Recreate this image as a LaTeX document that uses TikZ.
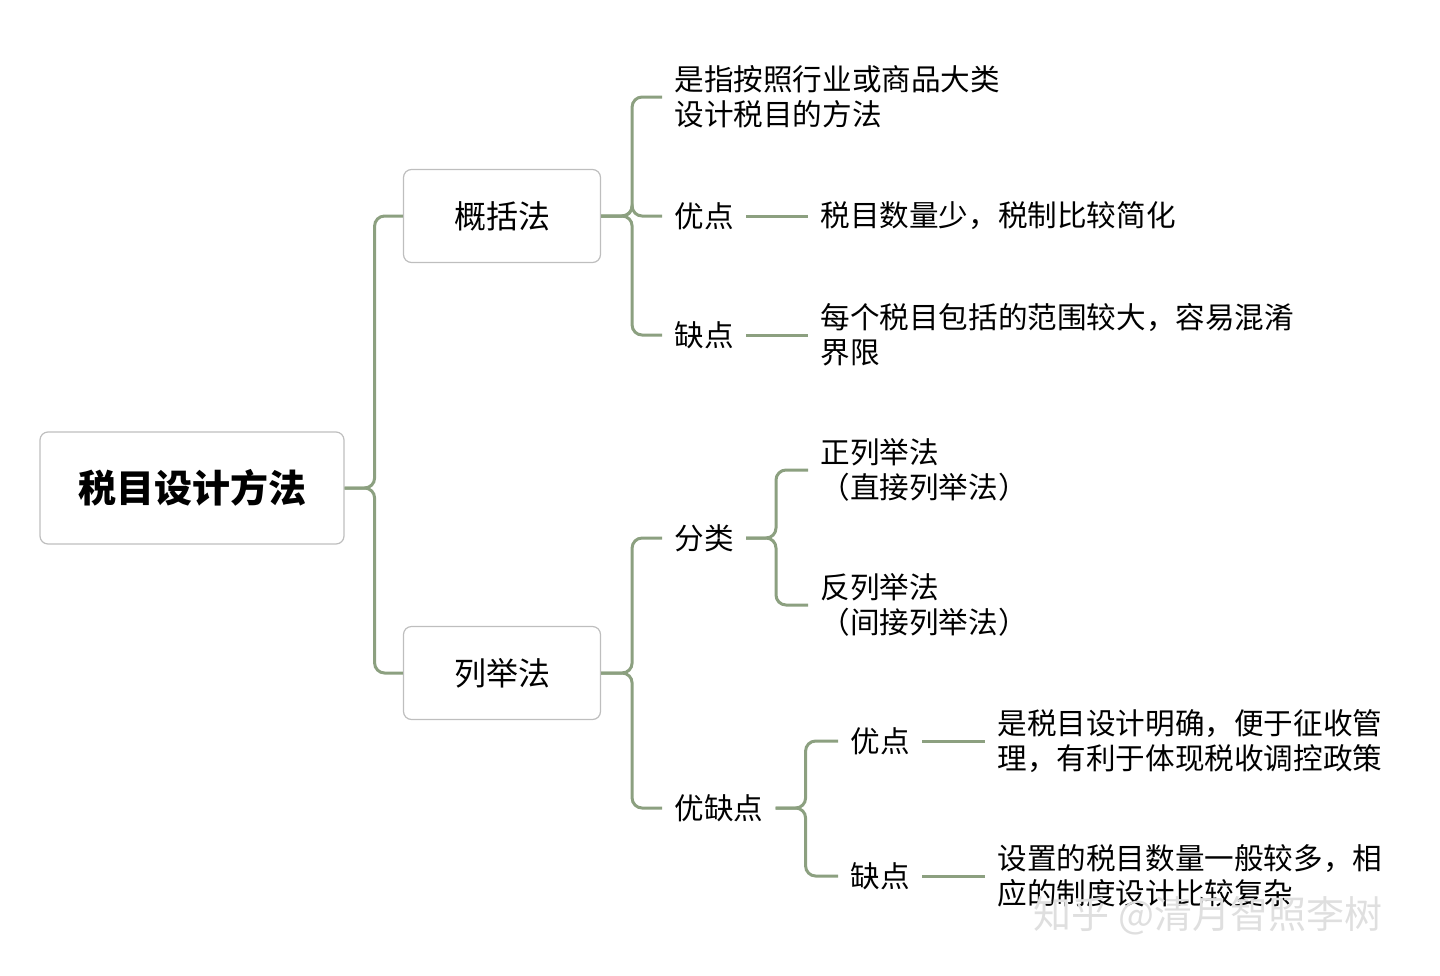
\documentclass[tikz,border=0pt]{standalone}
\usepackage{fontspec}
\setmainfont{Noto Sans CJK SC}
\usetikzlibrary{positioning}
\definecolor{linkgreen}{RGB}{140,160,128}
\definecolor{boxgray}{RGB}{190,190,190}
\begin{document}
\begin{tikzpicture}[x=0.5pt,y=-0.5pt,
    box/.style={draw=boxgray,line width=0.6pt,rounded corners=4pt,minimum width=98.5pt,minimum height=46.5pt,font=\fontsize{16}{19}\selectfont},
    leaf/.style={anchor=west,inner sep=6pt,align=left,font=\fontsize{14.8}{17.5}\selectfont},
    link/.style={draw=linkgreen,line width=1.5pt,rounded corners=5pt}]
    \useasboundingbox (0,0) rectangle (1440,975);

    % boxes
    \node[box,minimum width=152pt,minimum height=56pt,font=\fontsize{19}{22}\selectfont\bfseries] (root) at (192,488) {税目设计方法};
    \node[box] (gk) at (502,216) {概括法};
    \node[box] (lj) at (502,673) {列举法};

    % 概括法
    \node[leaf] (gkdef) at (662,97) {是指按照行业或商品大类\\设计税目的方法};
    \node[leaf] (gkyd) at (662,216) {优点};
    \node[leaf] (gkqd) at (662,335) {缺点};
    \node[leaf] (gkydt) at (808,216) {税目数量少，税制比较简化};
    \node[leaf] (gkqdt) at (808,335) {每个税目包括的范围较大，容易混淆\\界限};

    % 列举法
    \node[leaf] (fl) at (662,538) {分类};
    \node[leaf] (yqd) at (662,808) {优缺点};
    \node[leaf] (zlj) at (808,470) {正列举法\\（直接列举法）};
    \node[leaf] (flj) at (808,605) {反列举法\\（间接列举法）};
    \node[leaf] (ljyd) at (838,741) {优点};
    \node[leaf] (ljqd) at (838,876) {缺点};
    \node[leaf] (ljydt) at (985,741) {是税目设计明确，便于征收管\\理，有利于体现税收调控政策};
    \node[leaf] (ljqdt) at (985,876) {设置的税目数量一般较多，相\\应的制度设计比较复杂};

    % connectors
    \draw[link] (root.east) -- ++(30,0) |- (gk.west);
    \draw[link] (root.east) -- ++(30,0) |- (lj.west);
    \foreach \n in {gkdef,gkyd,gkqd}
        \draw[link] (gk.east) -- ++(31,0) |- (\n.west);
    \draw[link] (gkyd.east) -- (gkydt.west);
    \draw[link] (gkqd.east) -- (gkqdt.west);
    \foreach \n in {fl,yqd}
        \draw[link] (lj.east) -- ++(31,0) |- (\n.west);
    \foreach \n in {zlj,flj}
        \draw[link] (fl.east) -- ++(30,0) |- (\n.west);
    \foreach \n in {ljyd,ljqd}
        \draw[link] (yqd.east) -- ++(30,0) |- (\n.west);
    \draw[link] (ljyd.east) -- (ljydt.west);
    \draw[link] (ljqd.east) -- (ljqdt.west);

    % watermark
    \node[text=gray!25,font=\fontsize{19}{22}\selectfont] (wm) at (1208,916) {知乎 @清月智照李树};
\end{tikzpicture}
\end{document}
